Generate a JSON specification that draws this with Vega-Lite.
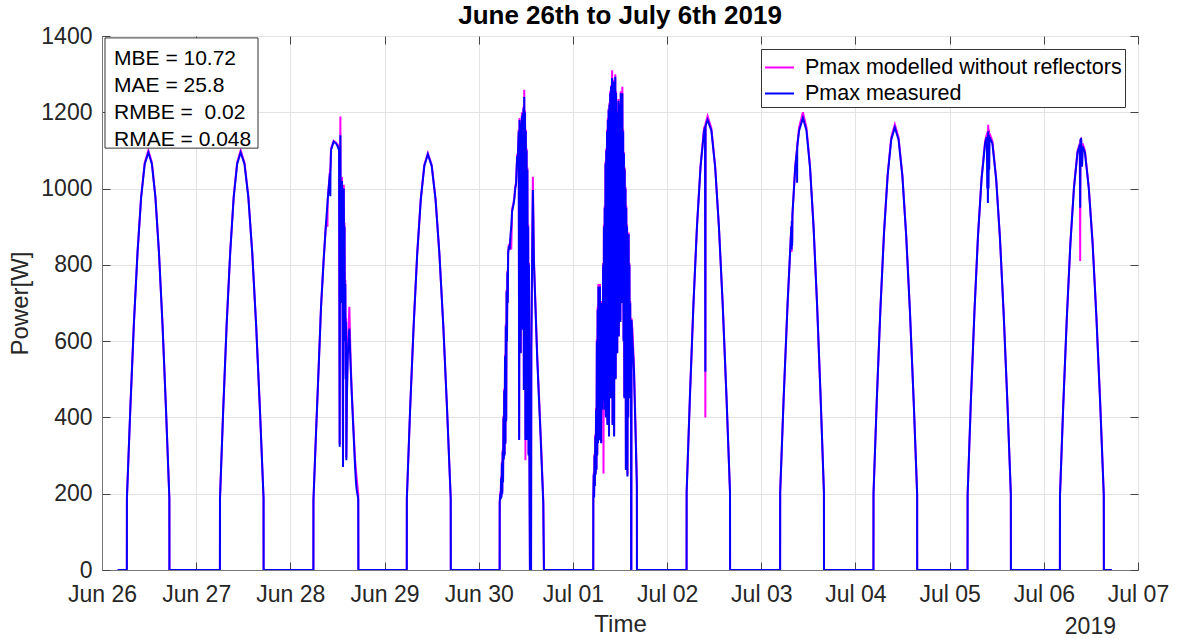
{
"$schema":"https://vega.github.io/schema/vega-lite/v6.json",
"width":1036,"height":534,
"autosize":{"type":"none"},
"padding":{"left":102,"top":36,"right":39,"bottom":69},
"config":{"font":"Liberation Sans","view":{"stroke":"#777777","strokeWidth":1},"background":"white"},
"title":{"text":"June 26th to July 6th 2019","fontSize":26,"fontWeight":"bold","color":"#000000","offset":-4},
"resolve":{"axis":{"x":"independent","y":"independent"}},
"data":{"values":[
{"t":"2019-06-26T04:00","meas":0,"mod":0},
{"t":"2019-06-26T06:20","meas":0,"mod":0},
{"t":"2019-06-26T06:21","meas":188,"mod":188},
{"t":"2019-06-26T07:12","meas":419,"mod":419},
{"t":"2019-06-26T08:07","meas":644,"mod":644},
{"t":"2019-06-26T09:03","meas":832,"mod":832},
{"t":"2019-06-26T09:58","meas":976,"mod":978},
{"t":"2019-06-26T10:53","meas":1064,"mod":1068},
{"t":"2019-06-26T11:49","meas":1095,"mod":1100},
{"t":"2019-06-26T12:43","meas":1064,"mod":1068},
{"t":"2019-06-26T13:37","meas":976,"mod":978},
{"t":"2019-06-26T14:31","meas":832,"mod":832},
{"t":"2019-06-26T15:25","meas":644,"mod":644},
{"t":"2019-06-26T16:19","meas":419,"mod":419},
{"t":"2019-06-26T17:10","meas":188,"mod":188},
{"t":"2019-06-26T17:11","meas":0,"mod":0},
{"t":"2019-06-27T06:03","meas":0,"mod":0},
{"t":"2019-06-27T06:04","meas":188,"mod":188},
{"t":"2019-06-27T06:53","meas":419,"mod":419},
{"t":"2019-06-27T07:46","meas":644,"mod":644},
{"t":"2019-06-27T08:40","meas":832,"mod":832},
{"t":"2019-06-27T09:33","meas":976,"mod":978},
{"t":"2019-06-27T10:26","meas":1064,"mod":1068},
{"t":"2019-06-27T11:20","meas":1095,"mod":1100},
{"t":"2019-06-27T12:19","meas":1064,"mod":1068},
{"t":"2019-06-27T13:18","meas":976,"mod":978},
{"t":"2019-06-27T14:17","meas":832,"mod":832},
{"t":"2019-06-27T15:16","meas":644,"mod":644},
{"t":"2019-06-27T16:15","meas":419,"mod":419},
{"t":"2019-06-27T17:10","meas":188,"mod":188},
{"t":"2019-06-27T17:11","meas":0,"mod":0},
{"t":"2019-06-28T05:52","meas":0,"mod":0},
{"t":"2019-06-28T05:53","meas":183,"mod":183},
{"t":"2019-06-28T06:32","meas":358,"mod":358},
{"t":"2019-06-28T07:13","meas":533,"mod":533},
{"t":"2019-06-28T07:49","meas":690,"mod":690},
{"t":"2019-06-28T08:29","meas":813,"mod":813},
{"t":"2019-06-28T09:05","meas":909,"mod":909},
{"t":"2019-06-28T09:27","meas":960,"mod":900},
{"t":"2019-06-28T09:31","meas":970,"mod":972},
{"t":"2019-06-28T10:05","meas":1040,"mod":1045},
{"t":"2019-06-28T10:11","meas":980,"mod":1050},
{"t":"2019-06-28T10:14","meas":1050,"mod":1055},
{"t":"2019-06-28T10:22","meas":1101,"mod":1105},
{"t":"2019-06-28T11:02","meas":1123,"mod":1125},
{"t":"2019-06-28T11:40","meas":1118,"mod":1120},
{"t":"2019-06-28T12:04","meas":1110,"mod":1115},
{"t":"2019-06-28T12:25","meas":1100,"mod":1105},
{"t":"2019-06-28T12:34","meas":323,"mod":330},
{"t":"2019-06-28T12:40","meas":1050,"mod":1060},
{"t":"2019-06-28T12:45","meas":1140,"mod":1189},
{"t":"2019-06-28T12:51","meas":700,"mod":720},
{"t":"2019-06-28T12:57","meas":1000,"mod":1010},
{"t":"2019-06-28T13:03","meas":850,"mod":860},
{"t":"2019-06-28T13:09","meas":1020,"mod":1030},
{"t":"2019-06-28T13:15","meas":900,"mod":910},
{"t":"2019-06-28T13:20","meas":600,"mod":610},
{"t":"2019-06-28T13:25","meas":270,"mod":280},
{"t":"2019-06-28T13:30","meas":950,"mod":960},
{"t":"2019-06-28T13:36","meas":1000,"mod":1010},
{"t":"2019-06-28T13:42","meas":800,"mod":810},
{"t":"2019-06-28T13:48","meas":900,"mod":910},
{"t":"2019-06-28T13:54","meas":600,"mod":610},
{"t":"2019-06-28T14:00","meas":750,"mod":760},
{"t":"2019-06-28T14:06","meas":500,"mod":510},
{"t":"2019-06-28T14:12","meas":650,"mod":660},
{"t":"2019-06-28T14:16","meas":288,"mod":295},
{"t":"2019-06-28T14:24","meas":450,"mod":460},
{"t":"2019-06-28T14:37","meas":560,"mod":575},
{"t":"2019-06-28T15:02","meas":633,"mod":690},
{"t":"2019-06-28T15:20","meas":540,"mod":560},
{"t":"2019-06-28T15:36","meas":472,"mod":480},
{"t":"2019-06-28T16:06","meas":358,"mod":370},
{"t":"2019-06-28T16:29","meas":271,"mod":290},
{"t":"2019-06-28T16:44","meas":228,"mod":260},
{"t":"2019-06-28T16:54","meas":210,"mod":240},
{"t":"2019-06-28T17:18","meas":185,"mod":200},
{"t":"2019-06-28T17:20","meas":0,"mod":0},
{"t":"2019-06-29T05:40","meas":0,"mod":0},
{"t":"2019-06-29T05:41","meas":187,"mod":187},
{"t":"2019-06-29T06:30","meas":417,"mod":417},
{"t":"2019-06-29T07:25","meas":641,"mod":641},
{"t":"2019-06-29T08:19","meas":828,"mod":828},
{"t":"2019-06-29T09:14","meas":971,"mod":973},
{"t":"2019-06-29T10:08","meas":1059,"mod":1062},
{"t":"2019-06-29T11:02","meas":1090,"mod":1093},
{"t":"2019-06-29T12:01","meas":1059,"mod":1062},
{"t":"2019-06-29T13:00","meas":971,"mod":973},
{"t":"2019-06-29T13:59","meas":828,"mod":828},
{"t":"2019-06-29T14:58","meas":641,"mod":641},
{"t":"2019-06-29T15:57","meas":417,"mod":417},
{"t":"2019-06-29T16:52","meas":187,"mod":187},
{"t":"2019-06-29T16:53","meas":0,"mod":0},
{"t":"2019-06-30T05:20","meas":0,"mod":0},
{"t":"2019-06-30T05:21","meas":175,"mod":180},
{"t":"2019-06-30T05:30","meas":200,"mod":205},
{"t":"2019-06-30T05:36","meas":185,"mod":190},
{"t":"2019-06-30T05:42","meas":240,"mod":245},
{"t":"2019-06-30T05:48","meas":190,"mod":195},
{"t":"2019-06-30T05:54","meas":280,"mod":285},
{"t":"2019-06-30T06:00","meas":200,"mod":205},
{"t":"2019-06-30T06:06","meas":310,"mod":315},
{"t":"2019-06-30T06:12","meas":230,"mod":235},
{"t":"2019-06-30T06:18","meas":400,"mod":405},
{"t":"2019-06-30T06:24","meas":290,"mod":295},
{"t":"2019-06-30T06:30","meas":470,"mod":475},
{"t":"2019-06-30T06:36","meas":300,"mod":305},
{"t":"2019-06-30T06:42","meas":560,"mod":565},
{"t":"2019-06-30T06:48","meas":330,"mod":335},
{"t":"2019-06-30T06:54","meas":640,"mod":645},
{"t":"2019-06-30T07:00","meas":390,"mod":395},
{"t":"2019-06-30T07:06","meas":730,"mod":735},
{"t":"2019-06-30T07:12","meas":600,"mod":605},
{"t":"2019-06-30T07:18","meas":780,"mod":785},
{"t":"2019-06-30T07:24","meas":700,"mod":705},
{"t":"2019-06-30T07:30","meas":830,"mod":835},
{"t":"2019-06-30T07:42","meas":850,"mod":855},
{"t":"2019-06-30T07:54","meas":840,"mod":845},
{"t":"2019-06-30T08:06","meas":880,"mod":870},
{"t":"2019-06-30T08:18","meas":900,"mod":840},
{"t":"2019-06-30T08:30","meas":940,"mod":945},
{"t":"2019-06-30T08:42","meas":950,"mod":955},
{"t":"2019-06-30T08:54","meas":960,"mod":965},
{"t":"2019-06-30T09:06","meas":975,"mod":980},
{"t":"2019-06-30T09:18","meas":1000,"mod":1005},
{"t":"2019-06-30T09:30","meas":1010,"mod":1015},
{"t":"2019-06-30T09:42","meas":1060,"mod":1065},
{"t":"2019-06-30T09:48","meas":1085,"mod":1090},
{"t":"2019-06-30T09:54","meas":1065,"mod":1070},
{"t":"2019-06-30T10:00","meas":1090,"mod":1095},
{"t":"2019-06-30T10:06","meas":1120,"mod":1125},
{"t":"2019-06-30T10:12","meas":1150,"mod":1155},
{"t":"2019-06-30T10:18","meas":341,"mod":345},
{"t":"2019-06-30T10:24","meas":1180,"mod":1185},
{"t":"2019-06-30T10:30","meas":600,"mod":605},
{"t":"2019-06-30T10:36","meas":1170,"mod":1175},
{"t":"2019-06-30T10:42","meas":568,"mod":570},
{"t":"2019-06-30T10:48","meas":1150,"mod":1155},
{"t":"2019-06-30T10:54","meas":800,"mod":805},
{"t":"2019-06-30T11:00","meas":1190,"mod":1200},
{"t":"2019-06-30T11:06","meas":630,"mod":640},
{"t":"2019-06-30T11:12","meas":1197,"mod":1200},
{"t":"2019-06-30T11:18","meas":700,"mod":705},
{"t":"2019-06-30T11:24","meas":1210,"mod":1215},
{"t":"2019-06-30T11:30","meas":472,"mod":475},
{"t":"2019-06-30T11:36","meas":1240,"mod":1259},
{"t":"2019-06-30T11:42","meas":520,"mod":525},
{"t":"2019-06-30T11:48","meas":1200,"mod":1205},
{"t":"2019-06-30T11:54","meas":341,"mod":288},
{"t":"2019-06-30T12:00","meas":1150,"mod":1155},
{"t":"2019-06-30T12:06","meas":480,"mod":485},
{"t":"2019-06-30T12:12","meas":1100,"mod":1105},
{"t":"2019-06-30T12:18","meas":341,"mod":345},
{"t":"2019-06-30T12:24","meas":1050,"mod":1055},
{"t":"2019-06-30T12:30","meas":500,"mod":505},
{"t":"2019-06-30T12:36","meas":900,"mod":905},
{"t":"2019-06-30T12:42","meas":300,"mod":305},
{"t":"2019-06-30T12:48","meas":800,"mod":805},
{"t":"2019-06-30T12:54","meas":350,"mod":355},
{"t":"2019-06-30T13:03","meas":0,"mod":0},
{"t":"2019-06-30T13:20","meas":0,"mod":0},
{"t":"2019-06-30T13:24","meas":585,"mod":590},
{"t":"2019-06-30T13:36","meas":800,"mod":820},
{"t":"2019-06-30T13:48","meas":996,"mod":1031},
{"t":"2019-06-30T14:04","meas":804,"mod":815},
{"t":"2019-06-30T14:55","meas":551,"mod":560},
{"t":"2019-06-30T15:46","meas":350,"mod":360},
{"t":"2019-06-30T16:27","meas":175,"mod":185},
{"t":"2019-06-30T16:37","meas":0,"mod":0},
{"t":"2019-07-01T05:11","meas":0,"mod":0},
{"t":"2019-07-01T05:12","meas":183,"mod":185},
{"t":"2019-07-01T05:18","meas":250,"mod":255},
{"t":"2019-07-01T05:24","meas":190,"mod":195},
{"t":"2019-07-01T05:30","meas":300,"mod":305},
{"t":"2019-07-01T05:36","meas":220,"mod":225},
{"t":"2019-07-01T05:42","meas":350,"mod":355},
{"t":"2019-07-01T05:48","meas":250,"mod":255},
{"t":"2019-07-01T05:54","meas":420,"mod":425},
{"t":"2019-07-01T06:00","meas":262,"mod":265},
{"t":"2019-07-01T06:06","meas":600,"mod":605},
{"t":"2019-07-01T06:12","meas":300,"mod":305},
{"t":"2019-07-01T06:18","meas":682,"mod":690},
{"t":"2019-07-01T06:24","meas":332,"mod":335},
{"t":"2019-07-01T06:30","meas":743,"mod":750},
{"t":"2019-07-01T06:36","meas":350,"mod":355},
{"t":"2019-07-01T06:42","meas":720,"mod":725},
{"t":"2019-07-01T06:48","meas":340,"mod":345},
{"t":"2019-07-01T06:54","meas":743,"mod":750},
{"t":"2019-07-01T07:00","meas":400,"mod":405},
{"t":"2019-07-01T07:06","meas":700,"mod":705},
{"t":"2019-07-01T07:12","meas":332,"mod":335},
{"t":"2019-07-01T07:18","meas":680,"mod":685},
{"t":"2019-07-01T07:24","meas":450,"mod":455},
{"t":"2019-07-01T07:30","meas":700,"mod":705},
{"t":"2019-07-01T07:36","meas":420,"mod":425},
{"t":"2019-07-01T07:42","meas":800,"mod":805},
{"t":"2019-07-01T07:48","meas":440,"mod":253},
{"t":"2019-07-01T07:54","meas":900,"mod":905},
{"t":"2019-07-01T08:00","meas":500,"mod":505},
{"t":"2019-07-01T08:06","meas":950,"mod":955},
{"t":"2019-07-01T08:12","meas":420,"mod":425},
{"t":"2019-07-01T08:18","meas":1066,"mod":1070},
{"t":"2019-07-01T08:24","meas":400,"mod":405},
{"t":"2019-07-01T08:30","meas":1100,"mod":1105},
{"t":"2019-07-01T08:36","meas":600,"mod":605},
{"t":"2019-07-01T08:42","meas":1150,"mod":1155},
{"t":"2019-07-01T08:48","meas":380,"mod":385},
{"t":"2019-07-01T08:54","meas":1180,"mod":1185},
{"t":"2019-07-01T09:00","meas":500,"mod":505},
{"t":"2019-07-01T09:06","meas":1206,"mod":1210},
{"t":"2019-07-01T09:12","meas":350,"mod":355},
{"t":"2019-07-01T09:18","meas":1220,"mod":1225},
{"t":"2019-07-01T09:24","meas":600,"mod":605},
{"t":"2019-07-01T09:30","meas":1250,"mod":1255},
{"t":"2019-07-01T09:36","meas":450,"mod":455},
{"t":"2019-07-01T09:42","meas":1267,"mod":1270},
{"t":"2019-07-01T09:48","meas":700,"mod":705},
{"t":"2019-07-01T09:54","meas":1250,"mod":1255},
{"t":"2019-07-01T10:00","meas":1290,"mod":1310},
{"t":"2019-07-01T10:06","meas":380,"mod":385},
{"t":"2019-07-01T10:12","meas":1280,"mod":1285},
{"t":"2019-07-01T10:18","meas":800,"mod":805},
{"t":"2019-07-01T10:24","meas":1260,"mod":1265},
{"t":"2019-07-01T10:30","meas":350,"mod":355},
{"t":"2019-07-01T10:36","meas":1280,"mod":1285},
{"t":"2019-07-01T10:42","meas":900,"mod":905},
{"t":"2019-07-01T10:48","meas":1293,"mod":1300},
{"t":"2019-07-01T10:54","meas":500,"mod":505},
{"t":"2019-07-01T11:00","meas":1250,"mod":1255},
{"t":"2019-07-01T11:06","meas":700,"mod":705},
{"t":"2019-07-01T11:12","meas":1200,"mod":1205},
{"t":"2019-07-01T11:18","meas":568,"mod":570},
{"t":"2019-07-01T11:24","meas":1150,"mod":1155},
{"t":"2019-07-01T11:30","meas":900,"mod":905},
{"t":"2019-07-01T11:36","meas":1230,"mod":1235},
{"t":"2019-07-01T11:42","meas":612,"mod":615},
{"t":"2019-07-01T11:48","meas":1200,"mod":1205},
{"t":"2019-07-01T11:54","meas":800,"mod":805},
{"t":"2019-07-01T12:00","meas":1220,"mod":1225},
{"t":"2019-07-01T12:06","meas":650,"mod":655},
{"t":"2019-07-01T12:12","meas":1250,"mod":1255},
{"t":"2019-07-01T12:18","meas":900,"mod":905},
{"t":"2019-07-01T12:24","meas":1240,"mod":1245},
{"t":"2019-07-01T12:30","meas":700,"mod":705},
{"t":"2019-07-01T12:36","meas":1250,"mod":1267},
{"t":"2019-07-01T12:42","meas":800,"mod":805},
{"t":"2019-07-01T12:48","meas":1150,"mod":1155},
{"t":"2019-07-01T12:54","meas":600,"mod":605},
{"t":"2019-07-01T13:00","meas":1092,"mod":1095},
{"t":"2019-07-01T13:06","meas":450,"mod":455},
{"t":"2019-07-01T13:12","meas":1050,"mod":1055},
{"t":"2019-07-01T13:18","meas":700,"mod":705},
{"t":"2019-07-01T13:24","meas":1000,"mod":1005},
{"t":"2019-07-01T13:30","meas":262,"mod":265},
{"t":"2019-07-01T13:36","meas":950,"mod":955},
{"t":"2019-07-01T13:42","meas":500,"mod":505},
{"t":"2019-07-01T13:48","meas":900,"mod":905},
{"t":"2019-07-01T13:54","meas":245,"mod":250},
{"t":"2019-07-01T14:00","meas":850,"mod":855},
{"t":"2019-07-01T14:06","meas":400,"mod":405},
{"t":"2019-07-01T14:12","meas":880,"mod":885},
{"t":"2019-07-01T14:18","meas":500,"mod":505},
{"t":"2019-07-01T14:24","meas":800,"mod":805},
{"t":"2019-07-01T14:30","meas":450,"mod":455},
{"t":"2019-07-01T14:36","meas":700,"mod":705},
{"t":"2019-07-01T14:42","meas":500,"mod":505},
{"t":"2019-07-01T14:48","meas":655,"mod":660},
{"t":"2019-07-01T14:50","meas":0,"mod":0},
{"t":"2019-07-01T14:53","meas":0,"mod":0},
{"t":"2019-07-01T14:56","meas":655,"mod":660},
{"t":"2019-07-01T15:10","meas":600,"mod":630},
{"t":"2019-07-01T15:33","meas":524,"mod":540},
{"t":"2019-07-01T15:59","meas":350,"mod":370},
{"t":"2019-07-01T16:18","meas":219,"mod":235},
{"t":"2019-07-01T16:19","meas":0,"mod":0},
{"t":"2019-07-02T04:58","meas":0,"mod":0},
{"t":"2019-07-02T04:59","meas":204,"mod":204},
{"t":"2019-07-02T05:49","meas":454,"mod":454},
{"t":"2019-07-02T06:43","meas":697,"mod":697},
{"t":"2019-07-02T07:37","meas":901,"mod":901},
{"t":"2019-07-02T08:31","meas":1056,"mod":1058},
{"t":"2019-07-02T09:25","meas":1152,"mod":1158},
{"t":"2019-07-02T09:40","meas":1160,"mod":1165},
{"t":"2019-07-02T09:45","meas":520,"mod":400},
{"t":"2019-07-02T09:48","meas":1165,"mod":1170},
{"t":"2019-07-02T10:19","meas":1180,"mod":1190},
{"t":"2019-07-02T11:17","meas":1152,"mod":1158},
{"t":"2019-07-02T12:15","meas":1056,"mod":1058},
{"t":"2019-07-02T13:12","meas":901,"mod":901},
{"t":"2019-07-02T14:10","meas":697,"mod":697},
{"t":"2019-07-02T15:08","meas":454,"mod":454},
{"t":"2019-07-02T16:02","meas":204,"mod":204},
{"t":"2019-07-02T16:03","meas":0,"mod":0},
{"t":"2019-07-03T04:48","meas":0,"mod":0},
{"t":"2019-07-03T04:49","meas":204,"mod":204},
{"t":"2019-07-03T05:43","meas":454,"mod":454},
{"t":"2019-07-03T06:42","meas":697,"mod":697},
{"t":"2019-07-03T07:40","meas":901,"mod":901},
{"t":"2019-07-03T07:44","meas":840,"mod":834},
{"t":"2019-07-03T07:48","meas":915,"mod":915},
{"t":"2019-07-03T07:52","meas":850,"mod":860},
{"t":"2019-07-03T07:56","meas":930,"mod":930},
{"t":"2019-07-03T08:39","meas":1056,"mod":1058},
{"t":"2019-07-03T09:06","meas":1100,"mod":1105},
{"t":"2019-07-03T09:08","meas":1015,"mod":1105},
{"t":"2019-07-03T09:10","meas":1110,"mod":1112},
{"t":"2019-07-03T09:38","meas":1152,"mod":1160},
{"t":"2019-07-03T10:37","meas":1185,"mod":1200},
{"t":"2019-07-03T11:31","meas":1152,"mod":1160},
{"t":"2019-07-03T12:25","meas":1056,"mod":1058},
{"t":"2019-07-03T13:19","meas":901,"mod":901},
{"t":"2019-07-03T14:13","meas":697,"mod":697},
{"t":"2019-07-03T15:07","meas":454,"mod":454},
{"t":"2019-07-03T15:58","meas":204,"mod":204},
{"t":"2019-07-03T15:59","meas":0,"mod":0},
{"t":"2019-07-04T04:35","meas":0,"mod":0},
{"t":"2019-07-04T04:36","meas":200,"mod":200},
{"t":"2019-07-04T05:26","meas":444,"mod":444},
{"t":"2019-07-04T06:21","meas":682,"mod":682},
{"t":"2019-07-04T07:16","meas":882,"mod":882},
{"t":"2019-07-04T08:12","meas":1034,"mod":1036},
{"t":"2019-07-04T09:07","meas":1128,"mod":1134},
{"t":"2019-07-04T10:02","meas":1160,"mod":1168},
{"t":"2019-07-04T10:59","meas":1128,"mod":1134},
{"t":"2019-07-04T11:57","meas":1034,"mod":1036},
{"t":"2019-07-04T12:54","meas":882,"mod":882},
{"t":"2019-07-04T13:52","meas":682,"mod":682},
{"t":"2019-07-04T14:50","meas":444,"mod":444},
{"t":"2019-07-04T15:43","meas":200,"mod":200},
{"t":"2019-07-04T15:44","meas":0,"mod":0},
{"t":"2019-07-05T04:34","meas":0,"mod":0},
{"t":"2019-07-05T04:35","meas":198,"mod":198},
{"t":"2019-07-05T05:24","meas":440,"mod":440},
{"t":"2019-07-05T06:19","meas":676,"mod":676},
{"t":"2019-07-05T07:13","meas":874,"mod":874},
{"t":"2019-07-05T08:08","meas":1025,"mod":1027},
{"t":"2019-07-05T09:02","meas":1118,"mod":1124},
{"t":"2019-07-05T09:25","meas":1135,"mod":1140},
{"t":"2019-07-05T09:30","meas":1120,"mod":1142},
{"t":"2019-07-05T09:35","meas":1000,"mod":1140},
{"t":"2019-07-05T09:40","meas":1130,"mod":1150},
{"t":"2019-07-05T09:45","meas":962,"mod":1120},
{"t":"2019-07-05T09:50","meas":1150,"mod":1167},
{"t":"2019-07-05T09:55","meas":1000,"mod":1140},
{"t":"2019-07-05T10:00","meas":1140,"mod":1155},
{"t":"2019-07-05T10:05","meas":1050,"mod":1130},
{"t":"2019-07-05T10:10","meas":1135,"mod":1145},
{"t":"2019-07-05T10:54","meas":1118,"mod":1124},
{"t":"2019-07-05T11:51","meas":1025,"mod":1027},
{"t":"2019-07-05T12:48","meas":874,"mod":874},
{"t":"2019-07-05T13:45","meas":676,"mod":676},
{"t":"2019-07-05T14:43","meas":440,"mod":440},
{"t":"2019-07-05T15:36","meas":198,"mod":198},
{"t":"2019-07-05T15:37","meas":0,"mod":0},
{"t":"2019-07-06T04:06","meas":0,"mod":0},
{"t":"2019-07-06T04:07","meas":194,"mod":194},
{"t":"2019-07-06T04:57","meas":431,"mod":431},
{"t":"2019-07-06T05:52","meas":662,"mod":662},
{"t":"2019-07-06T06:46","meas":855,"mod":855},
{"t":"2019-07-06T07:41","meas":1002,"mod":1004},
{"t":"2019-07-06T08:35","meas":1094,"mod":1098},
{"t":"2019-07-06T09:10","meas":1115,"mod":1118},
{"t":"2019-07-06T09:16","meas":950,"mod":810},
{"t":"2019-07-06T09:20","meas":1125,"mod":1128},
{"t":"2019-07-06T09:30","meas":1133,"mod":1130},
{"t":"2019-07-06T09:45","meas":1057,"mod":1080},
{"t":"2019-07-06T09:55","meas":1110,"mod":1118},
{"t":"2019-07-06T10:29","meas":1094,"mod":1098},
{"t":"2019-07-06T11:27","meas":1002,"mod":1004},
{"t":"2019-07-06T12:26","meas":855,"mod":860},
{"t":"2019-07-06T13:24","meas":662,"mod":666},
{"t":"2019-07-06T14:23","meas":431,"mod":436},
{"t":"2019-07-06T15:17","meas":194,"mod":198},
{"t":"2019-07-06T15:18","meas":0,"mod":0},
{"t":"2019-07-06T17:20","meas":0,"mod":0}
]},
"layer":[
{"mark":{"type":"line","strokeWidth":2,"clip":true},
 "encoding":{
  "x":{"field":"t","type":"temporal",
   "scale":{"domain":[{"year":2019,"month":6,"date":26},{"year":2019,"month":7,"date":7}]},
   "axis":{"title":"Time","format":"%b %d","tickCount":{"interval":"day","step":1},"labelFontSize":23,"labelColor":"#262626","labelPadding":21,"labelOverlap":false,"labelFlush":false,"titleFontSize":24,"titleFontWeight":"normal","titleColor":"#262626","titlePadding":6,"ticks":true,"tickSize":-8,"tickColor":"#444444","grid":true,"gridColor":"#e3e3e3","domainColor":"#777777"}},
  "y":{"field":"mod","type":"quantitative",
   "scale":{"domain":[0,1400],"nice":false},
   "axis":{"title":"Power[W]","format":"d","values":[0,200,400,600,800,1000,1200,1400],"labelFontSize":23,"labelColor":"#262626","labelPadding":18,"titleFontSize":24,"titleFontWeight":"normal","titleColor":"#262626","titlePadding":8,"ticks":true,"tickSize":-8,"tickColor":"#444444","grid":true,"gridColor":"#e3e3e3","domainColor":"#777777"}},
  "color":{"datum":"Pmax modelled without reflectors","type":"nominal",
   "scale":{"domain":["Pmax modelled without reflectors","Pmax measured"],"range":["#FF00FF","#0000FF"]},
   "legend":{"orient":"none","legendX":659,"legendY":13,"direction":"vertical","title":null,"labelFontSize":21.5,"labelLimit":0,"labelColor":"#000000","symbolType":"stroke","symbolStrokeWidth":2,"symbolSize":841,"strokeColor":"#333333","fillColor":"white","padding":3,"rowPadding":0,"labelOffset":10}}
 }},
{"mark":{"type":"line","strokeWidth":2,"clip":true},
 "encoding":{
  "x":{"field":"t","type":"temporal",
   "axis":{"orient":"top","title":null,"labels":false,"grid":false,"domain":false,"tickCount":{"interval":"day","step":1},"ticks":true,"tickSize":-8,"tickColor":"#444444"}},
  "y":{"field":"meas","type":"quantitative",
   "axis":{"orient":"right","title":null,"labels":false,"grid":false,"domain":false,"values":[0,200,400,600,800,1000,1200,1400],"ticks":true,"tickSize":-8,"tickColor":"#444444"}},
  "color":{"datum":"Pmax measured","type":"nominal"}
 }},
{"data":{"values":[{}]},
 "mark":{"type":"rect","fill":"white","stroke":"#333333","strokeWidth":1},
 "encoding":{
  "x":{"datum":{"year":2019,"month":6,"date":26,"hours":0,"minutes":46},"type":"temporal","axis":null},
  "x2":{"datum":{"year":2019,"month":6,"date":27,"hours":15,"minutes":45}},
  "y":{"datum":1395,"type":"quantitative","axis":null},
  "y2":{"datum":1106}
 }},
{"data":{"values":[{}]},
 "mark":{"type":"text","align":"left","baseline":"alphabetic","fontSize":21,"lineHeight":27,"color":"#000000"},
 "encoding":{
  "x":{"datum":{"year":2019,"month":6,"date":26,"hours":3,"minutes":4},"type":"temporal","axis":null},
  "y":{"datum":1324,"type":"quantitative","axis":null},
  "text":{"value":["MBE = 10.72","MAE = 25.8","RMBE = \u00a00.02","RMAE = 0.048"]}
 }},
{"data":{"values":[{}]},
 "mark":{"type":"text","align":"center","baseline":"middle","fontSize":23,"color":"#262626"},
 "encoding":{
  "x":{"datum":{"year":2019,"month":7,"date":6,"hours":11,"minutes":52},"type":"temporal","axis":null},
  "y":{"datum":-149,"type":"quantitative","axis":null},
  "text":{"value":"2019"}
 }}
]
}
